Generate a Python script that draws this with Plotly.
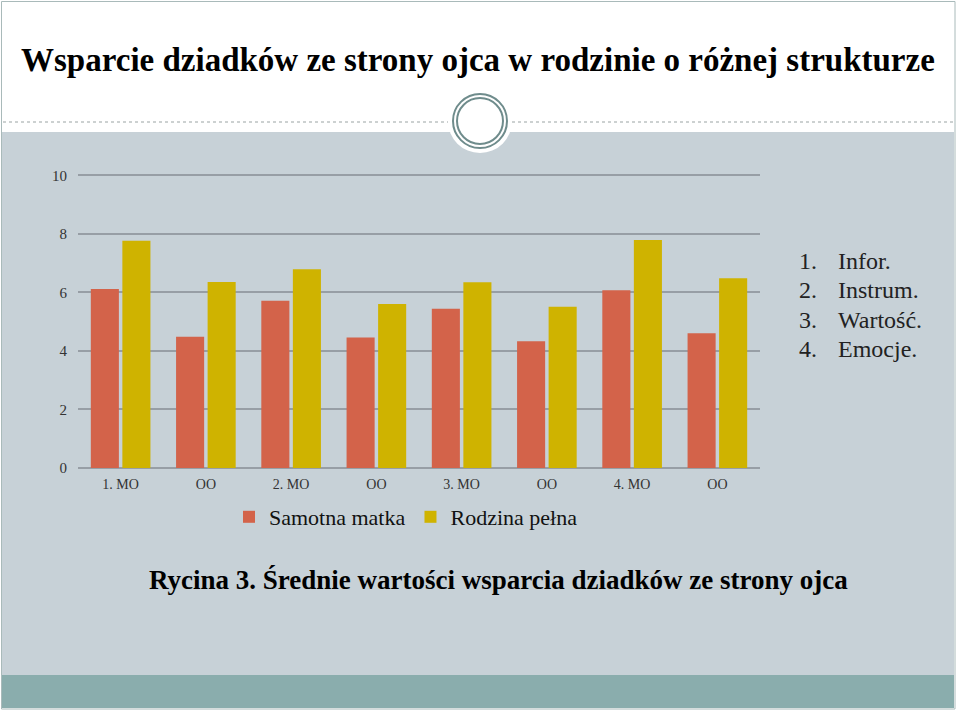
import plotly.graph_objects as go

# ---- data ----
categories = ["1. MO", "OO", "2. MO", "OO", "3. MO", "OO", "4. MO", "OO"]
samotna_matka = [6.12, 4.49, 5.72, 4.46, 5.44, 4.33, 6.08, 4.61]
rodzina_pelna = [7.77, 6.36, 6.79, 5.61, 6.35, 5.51, 7.79, 6.49]
series_names = ["Samotna matka", "Rodzina pełna"]
y_ticks = [0, 2, 4, 6, 8, 10]
title_text = "Wsparcie dziadków ze strony ojca w rodzinie o różnej strukturze"
caption_text = "Rycina 3. Średnie wartości wsparcia dziadków ze strony ojca"
side_numbers = ["1.", "2.", "3.", "4."]
side_labels = ["Infor.", "Instrum.", "Wartość.", "Emocje."]

# ---- geometry helpers (pixel -> paper) ----
W, H = 960, 712
L, R, T, B = 78, 200, 174, 244
PW, PH = W - L - R, H - T - B


def px(x):
    return (x - L) / PW


def py(y):
    return (H - B - y) / PH


RED = "#D3634A"
YEL = "#CFB300"
BG = "#C7D1D7"
TEAL = "#8AADAD"
RING = "#6F8C8C"
SERIF = "Liberation Serif, Times New Roman, serif"

xpos = list(range(len(categories)))

fig = go.Figure()
fig.add_trace(go.Bar(x=xpos, y=samotna_matka, name=series_names[0],
                     marker=dict(color=RED, line=dict(width=0))))
fig.add_trace(go.Bar(x=xpos, y=rodzina_pelna, name=series_names[1],
                     marker=dict(color=YEL, line=dict(width=0))))

shapes = []
shapes.append(dict(type="rect", xref="paper", yref="paper", layer="below",
                   x0=px(2), x1=px(954), y0=py(132), y1=py(675),
                   fillcolor=BG, line=dict(width=0)))
shapes.append(dict(type="rect", xref="paper", yref="paper", layer="below",
                   x0=px(2), x1=px(954), y0=py(675), y1=py(708),
                   fillcolor=TEAL, line=dict(width=0)))
shapes.append(dict(type="rect", xref="paper", yref="paper", layer="below",
                   x0=px(1.5), x1=px(955), y0=py(1.5), y1=py(709),
                   fillcolor="rgba(0,0,0,0)", line=dict(color="#A9BABA", width=1)))
for xa, xb in [(3, 448), (512, 953)]:
    shapes.append(dict(type="line", xref="paper", yref="paper", layer="below",
                       x0=px(xa), x1=px(xb), y0=py(122), y1=py(122),
                       line=dict(color="#9AA3A3", width=1, dash="dot")))
cx, cy = 480, 121
for r, fill, lc, lw in [(32, "white", "white", 0), (27, "rgba(0,0,0,0)", RING, 2),
                        (23, "rgba(0,0,0,0)", RING, 2)]:
    shapes.append(dict(type="circle", xref="paper", yref="paper", layer="below",
                       x0=px(cx - r), x1=px(cx + r), y0=py(cy + r), y1=py(cy - r),
                       fillcolor=fill, line=dict(color=lc, width=lw)))

annotations = []
annotations.append(dict(text="<b>" + title_text + "</b>", xref="paper", yref="paper",
                        x=px(478), y=py(60), xanchor="center", yanchor="middle",
                        showarrow=False, font=dict(family=SERIF, size=33, color="#000")))
annotations.append(dict(text="<b>" + caption_text + "</b>", xref="paper", yref="paper",
                        x=px(498), y=py(580), xanchor="center", yanchor="middle",
                        showarrow=False, font=dict(family=SERIF, size=27, color="#000")))
for i, (n, s) in enumerate(zip(side_numbers, side_labels)):
    yy = 261 + i * 29.3
    annotations.append(dict(text=n, xref="paper", yref="paper", x=px(797), y=py(yy),
                            xanchor="left", yanchor="middle", showarrow=False,
                            font=dict(family=SERIF, size=24, color="#222")))
    annotations.append(dict(text=s, xref="paper", yref="paper", x=px(836), y=py(yy),
                            xanchor="left", yanchor="middle", showarrow=False,
                            font=dict(family=SERIF, size=24, color="#222")))

fig.update_layout(
    width=W, height=H,
    margin=dict(l=L, r=R, t=T, b=B),
    paper_bgcolor="white",
    plot_bgcolor="rgba(0,0,0,0)",
    barmode="group",
    bargap=0.26,
    bargroupgap=0.11,
    shapes=shapes,
    annotations=annotations,
    showlegend=True,
    legend=dict(orientation="h", x=px(406), y=py(517), xanchor="center", yanchor="middle",
                font=dict(family=SERIF, size=22, color="#111"),
                bgcolor="rgba(0,0,0,0)", itemwidth=30, traceorder="normal"),
    xaxis=dict(range=[-0.5, len(categories) - 0.5], tickmode="array", tickvals=xpos,
               ticktext=categories, showgrid=False, zeroline=False, showline=False,
               ticks="", tickfont=dict(family=SERIF, size=14, color="#333"),
               ticklabelstandoff=6, fixedrange=True),
    yaxis=dict(range=[0, 10.05], tickmode="array", tickvals=y_ticks,
               showgrid=True, gridcolor="#979EA5", gridwidth=1.5,
               zeroline=True, zerolinecolor="#979EA5", zerolinewidth=1.5,
               showline=False, ticks="",
               tickfont=dict(family=SERIF, size=15, color="#333"),
               ticklabelstandoff=10, fixedrange=True),
)

fig.write_html("out.html", config={"displayModeBar": False},
               post_script="document.body.style.margin='0';document.body.style.overflow='hidden';")
